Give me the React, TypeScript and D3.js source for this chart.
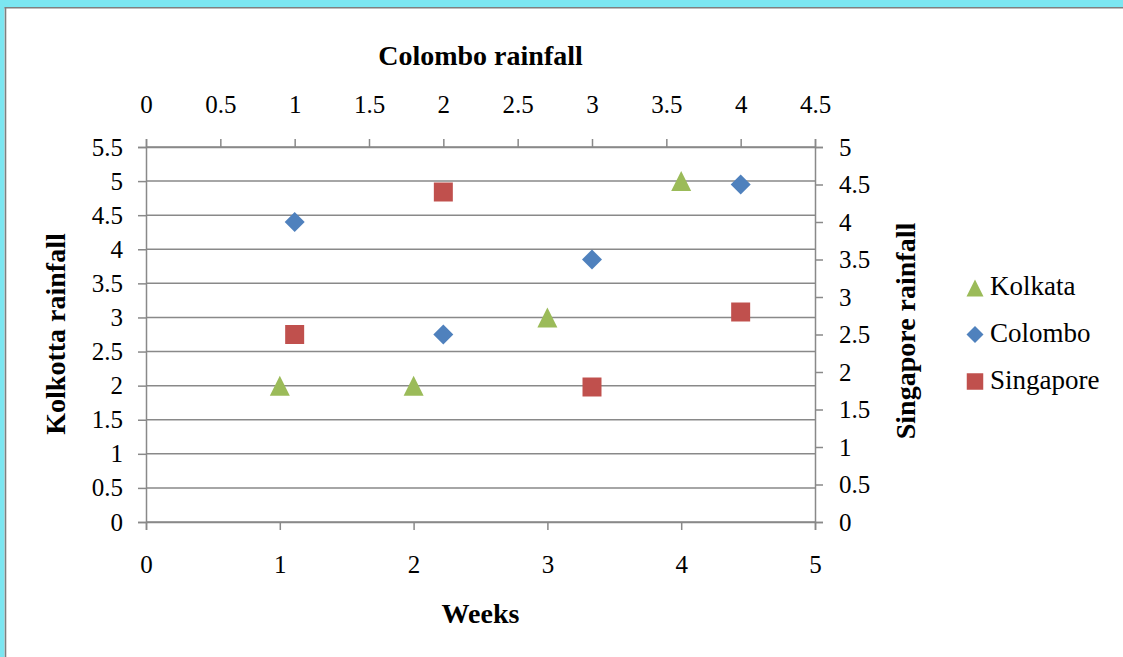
import React, { useEffect, useRef } from "react";
import * as d3 from "d3";

// data
const kolkataWeeks = [1, 2, 3, 4];
const kolkataRain = [2, 2, 3, 5];
const colomboWeeks = [1, 2, 3, 4];
const colomboRain = [4, 2.5, 3.5, 4.5];
const singaporeWeeks = [1, 2, 3, 4];
const singaporeRain = [2.5, 4.4, 1.8, 2.8];

const bottomTicks = [0, 1, 2, 3, 4, 5];
const topTicks = [0, 0.5, 1, 1.5, 2, 2.5, 3, 3.5, 4, 4.5];
const leftTicks = [0, 0.5, 1, 1.5, 2, 2.5, 3, 3.5, 4, 4.5, 5, 5.5];
const rightTicks = [0, 0.5, 1, 1.5, 2, 2.5, 3, 3.5, 4, 4.5, 5];

const seriesNames = ["Kolkata", "Colombo", "Singapore"];
const seriesColors = ["#9BBB59", "#4F81BD", "#C0504D"];

const W = 1123;
const H = 657;
const FONT = "'Liberation Serif', serif";
const GRAY = "#898989";
const TICK_FONT = 25;

// marker shapes, centred on 0,0
function markerPath(kind: string, s: number) {
  const h = s / 2;
  if (kind === "triangle") return `M0,${-h}L${h},${h}L${-h},${h}Z`;
  if (kind === "diamond") return `M0,${-h}L${h},0L0,${h}L${-h},0Z`;
  return `M${-h},${-h}H${h}V${h}H${-h}Z`;
}

export default function App() {
  const ref = useRef<SVGSVGElement>(null);

  useEffect(() => {
    const svg = d3.select(ref.current);
    svg.selectAll("*").remove();

    const left = 146, right = 815, top = 147, bottom = 522;

    const xBottom = d3.scaleLinear().domain([0, 5]).range([left, right]);
    const xTop = d3.scaleLinear().domain([0, 4.5]).range([left, right]);
    const yLeft = d3.scaleLinear().domain([0, 5.5]).range([bottom, top]);
    const yRight = d3.scaleLinear().domain([0, 5]).range([bottom, top]);

    // frame
    svg.append("rect").attr("x", 0).attr("y", 0).attr("width", W).attr("height", H).attr("fill", "#fff");
    svg.append("rect").attr("x", 0).attr("y", 0).attr("width", W).attr("height", 7).attr("fill", "#7BE6F1");
    svg.append("rect").attr("x", 0).attr("y", 0).attr("width", 4.5).attr("height", H).attr("fill", "#7BE6F1");
    svg.append("line").attr("x1", 4.5).attr("x2", W).attr("y1", 7.8).attr("y2", 7.8)
      .attr("stroke", "#7f7f7f").attr("stroke-width", 1.6);
    svg.append("line").attr("x1", 5.5).attr("x2", 5.5).attr("y1", 7).attr("y2", H)
      .attr("stroke", "#7f7f7f").attr("stroke-width", 1.6);

    // gridlines
    svg.append("g")
      .selectAll("line")
      .data(leftTicks)
      .join("line")
      .attr("x1", left)
      .attr("x2", right)
      .attr("y1", d => yLeft(d))
      .attr("y2", d => yLeft(d))
      .attr("stroke", GRAY)
      .attr("stroke-width", 1.5);

    const styleAxis = (g: any, size: number) => {
      g.attr("font-family", FONT).attr("font-size", size);
      g.selectAll(".domain").attr("stroke", GRAY).attr("stroke-width", 1.5);
      g.selectAll(".tick line").attr("stroke", GRAY).attr("stroke-width", 1.5);
      g.selectAll(".tick text").attr("fill", "#000");
    };

    svg.append("g")
      .attr("transform", `translate(0,${bottom})`)
      .call(d3.axisBottom(xBottom).tickValues(bottomTicks).tickSize(8).tickPadding(25).tickFormat(d3.format("")))
      .call(g => styleAxis(g, TICK_FONT));

    svg.append("g")
      .attr("transform", `translate(0,${top})`)
      .call(d3.axisTop(xTop).tickValues(topTicks).tickSize(8).tickPadding(26).tickFormat(d3.format("")))
      .call(g => styleAxis(g, TICK_FONT));

    svg.append("g")
      .attr("transform", `translate(${left},0)`)
      .call(d3.axisLeft(yLeft).tickValues(leftTicks).tickSize(8).tickPadding(15).tickFormat(d3.format("")))
      .call(g => styleAxis(g, TICK_FONT));

    svg.append("g")
      .attr("transform", `translate(${right},0)`)
      .call(d3.axisRight(yRight).tickValues(rightTicks).tickSize(8).tickPadding(16).tickFormat(d3.format("")))
      .call(g => styleAxis(g, TICK_FONT));

    // axis titles
    svg.append("text")
      .attr("x", (left + right) / 2).attr("y", 65)
      .attr("text-anchor", "middle").attr("font-family", FONT).attr("font-weight", "bold").attr("font-size", 28)
      .text("Colombo rainfall");

    svg.append("text")
      .attr("x", (left + right) / 2).attr("y", 623)
      .attr("text-anchor", "middle").attr("font-family", FONT).attr("font-weight", "bold").attr("font-size", 28)
      .text("Weeks");

    svg.append("text")
      .attr("transform", "translate(65,334) rotate(-90)")
      .attr("text-anchor", "middle").attr("font-family", FONT).attr("font-weight", "bold").attr("font-size", 28)
      .text("Kolkotta rainfall");

    svg.append("text")
      .attr("transform", "translate(915,331) rotate(-90)")
      .attr("text-anchor", "middle").attr("font-family", FONT).attr("font-weight", "bold").attr("font-size", 28)
      .text("Singapore rainfall");

    // points
    const kolkata = kolkataWeeks.map((w, i) => ({ x: xBottom(w), y: yLeft(kolkataRain[i]) }));
    const colombo = colomboWeeks.map((w, i) => ({ x: xTop(w), y: yRight(colomboRain[i]) }));
    const singapore = singaporeWeeks.map((w, i) => ({ x: xTop(w), y: yRight(singaporeRain[i]) }));

    const drawSeries = (pts: { x: number, y: number }[], kind: string, color: string, size: number) => {
      svg.append("g")
        .selectAll("path")
        .data(pts)
        .join("path")
        .attr("transform", d => `translate(${d.x},${d.y})`)
        .attr("d", markerPath(kind, size))
        .attr("fill", color);
    };
    drawSeries(singapore, "square", seriesColors[2], 19);
    drawSeries(colombo, "diamond", seriesColors[1], 20);
    drawSeries(kolkata, "triangle", seriesColors[0], 20);

    // legend
    const kinds = ["triangle", "diamond", "square"];
    const legendY = [288, 334.5, 381.5];
    seriesNames.forEach((name, i) => {
      svg.append("path")
        .attr("transform", `translate(975,${legendY[i]})`)
        .attr("d", markerPath(kinds[i], kinds[i] === "square" ? 16.5 : 17))
        .attr("fill", seriesColors[i]);
      svg.append("text")
        .attr("x", 990).attr("y", legendY[i] + 7)
        .attr("font-family", FONT).attr("font-size", 27)
        .text(name);
    });
  }, []);

  return (
    <svg ref={ref} width={W} height={H} style={{ position: "absolute", left: 0, top: 0 }} />
  );
}
